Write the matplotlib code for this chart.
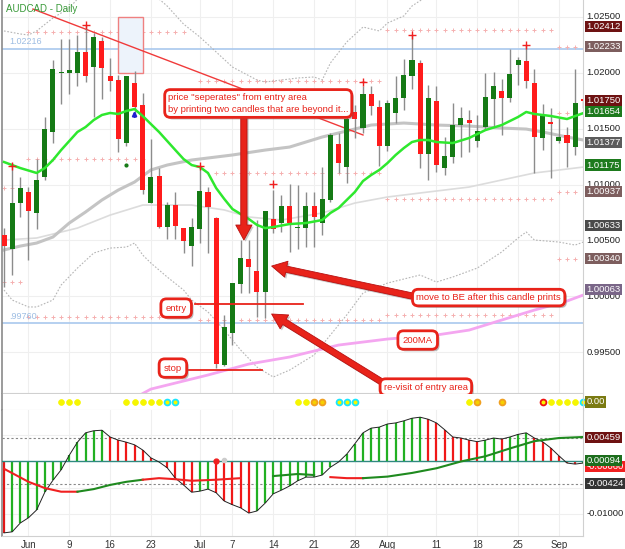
import matplotlib.pyplot as plt
import matplotlib.patheffects as pe
import numpy as np

plt.rcParams['font.family'] = ['Liberation Sans', 'DejaVu Sans']

# velas diarias AUDCAD, 28 may -> 4 sep 2014 (72 velas)
abre = [1.00549, 1.00423, 1.00835, 1.00934, 1.00746, 1.01068, 1.01471, 1.01999, 1.01999, 1.01999,
        1.02187, 1.02052, 1.02285, 1.01972, 1.01936, 1.01372, 1.01909, 1.01712, 1.00835, 1.01077,
        1.00620, 1.00817, 1.00611, 1.00450, 1.00602, 1.00934, 1.00701, 0.99385, 0.99672, 1.00110,
        1.00334, 1.00227, 1.00039, 1.00692, 1.00656, 1.00808, 1.00611, 1.00611, 1.00808, 1.00656,
        1.00862, 1.01363, 1.01157, 1.01650, 1.01506, 1.01811, 1.01694, 1.01345, 1.01641, 1.01775,
        1.01972, 1.02088, 1.01274, 1.01748, 1.01148, 1.01247, 1.01533, 1.01578, 1.01390, 1.01515,
        1.01766, 1.01838, 1.01775, 1.02070, 1.02106, 1.01909, 1.01417, 1.01560, 1.01390, 1.01444,
        1.01336, 1.01757]
maximo = [1.00611, 1.01193, 1.01068, 1.00978, 1.01229, 1.01605, 1.02115, 1.02303, 1.02303, 1.02339,
          1.02428, 1.02357, 1.02321, 1.02133, 1.01981, 1.01972, 1.02017, 1.01820, 1.01408, 1.01148,
          1.00844, 1.00934, 1.00611, 1.00701, 1.01157, 1.00978, 1.00710, 0.99833, 1.00119, 1.00504,
          1.00504, 1.00683, 1.00764, 1.00951, 1.00907, 1.01005, 1.00996, 1.00934, 1.00934, 1.01157,
          1.01462, 1.01462, 1.01667, 1.01712, 1.01882, 1.01882, 1.01757, 1.01757, 1.01972, 1.02124,
          1.02339, 1.02115, 1.01891, 1.01882, 1.01426, 1.01730, 1.01694, 1.01667, 1.01623, 1.01999,
          1.02008, 1.01945, 1.02213, 1.02142, 1.02249, 1.02034, 1.01721, 1.01685, 1.01596, 1.01515,
          1.02034, 1.01757]
minimo = [1.00083, 1.00191, 1.00710, 1.00325, 1.00602, 1.01041, 1.01372, 1.01721, 1.01811, 1.01882,
          1.01918, 1.01605, 1.01766, 1.01838, 1.01292, 1.01345, 1.01605, 1.00916, 1.00835, 1.00611,
          1.00513, 1.00513, 1.00388, 1.00271, 1.00477, 1.00388, 0.99358, 0.99376, 0.99564, 1.00030,
          1.00030, 0.99815, 0.99806, 1.00567, 1.00576, 1.00397, 1.00423, 1.00441, 1.00441, 1.00549,
          1.00844, 1.01104, 1.01014, 1.01417, 1.01462, 1.01623, 1.01166, 1.01301, 1.01551, 1.01667,
          1.01855, 1.01148, 1.01041, 1.01113, 1.01086, 1.01193, 1.01247, 1.01292, 1.01336, 1.01488,
          1.01524, 1.01444, 1.01739, 1.01891, 1.01864, 1.01104, 1.01309, 1.01059, 1.01372, 1.01157,
          1.01265, 1.01685]
cierra = [1.00450, 1.00835, 1.00969, 1.00764, 1.01041, 1.01497, 1.02034, 1.02008, 1.02025, 1.02187,
          1.01972, 1.02321, 1.02043, 1.01927, 1.01408, 1.01972, 1.01694, 1.00951, 1.01068, 1.00620,
          1.00817, 1.00629, 1.00495, 1.00620, 1.00943, 1.00799, 0.99394, 0.99725, 1.00119, 1.00343,
          1.00262, 1.00039, 1.00764, 1.00602, 1.00808, 1.00656, 1.00620, 1.00808, 1.00710, 1.00871,
          1.01444, 1.01193, 1.01587, 1.01587, 1.01811, 1.01703, 1.01345, 1.01730, 1.01775, 1.01981,
          1.02115, 1.01274, 1.01775, 1.01175, 1.01256, 1.01533, 1.01596, 1.01551, 1.01480, 1.01784,
          1.01882, 1.01775, 1.01990, 1.02115, 1.01927, 1.01426, 1.01623, 1.01542, 1.01426, 1.01372,
          1.01730, 1.01750]

# medias moviles (indice de vela, precio)
ma_verde_i = [0, 2, 4, 5, 6, 7, 8, 9, 10, 11, 12, 13, 14, 15, 16, 17, 18, 19, 20, 21, 22, 23, 24, 25,
              26, 27, 28, 29, 30, 31, 32, 33, 35, 37, 39, 40, 41, 42, 43, 44, 45, 46, 47, 48, 49, 50,
              51, 52, 53, 55, 57, 59, 61, 63, 64, 65, 67, 69, 71]
ma_verde = [1.01202, 1.01148, 1.01104, 1.01148, 1.01220, 1.01309, 1.01390, 1.01471, 1.01515, 1.01578,
            1.01623, 1.01641, 1.01632, 1.01659, 1.01676, 1.01614, 1.01542, 1.01471, 1.01390, 1.01309,
            1.01229, 1.01175, 1.01157, 1.01104, 1.00969, 1.00871, 1.00781, 1.00737, 1.00692, 1.00639,
            1.00611, 1.00620, 1.00647, 1.00656, 1.00683, 1.00746, 1.00790, 1.00862, 1.00934, 1.01032,
            1.01086, 1.01131, 1.01193, 1.01265, 1.01327, 1.01381, 1.01399, 1.01399, 1.01381, 1.01372,
            1.01417, 1.01488, 1.01533, 1.01605, 1.01650, 1.01632, 1.01614, 1.01587, 1.01640]
ma_gris_i = [0, 2, 4, 6, 8, 10, 12, 14, 16, 18, 20, 23, 28, 32, 35, 39, 41, 45, 49, 53, 57, 61, 64,
             66, 69, 71]
ma_gris = [1.00415, 1.00450, 1.00477, 1.00531, 1.00656, 1.00755, 1.00862, 1.00951, 1.01023, 1.01131,
           1.01175, 1.01220, 1.01265, 1.01309, 1.01336, 1.01426, 1.01462, 1.01533, 1.01551, 1.01533,
           1.01524, 1.01506, 1.01497, 1.01471, 1.01426, 1.01399]
ma_fina_i = [0, 4, 9, 13, 17, 23, 27, 30, 34, 39, 43, 47, 51, 57, 61, 65, 71]
ma_fina = [1.00504, 1.00522, 1.00611, 1.00727, 1.00817, 1.00817, 1.00773, 1.00710, 1.00683, 1.00746,
           1.00835, 1.00889, 1.00925, 1.00978, 1.01041, 1.01104, 1.01157]
ma200_i = [17, 18, 20, 25, 30, 35, 41, 47, 53, 57, 61, 65, 69, 71]
ma200 = [0.99130, 0.99170, 0.99206, 0.99296, 0.99394, 0.99457, 0.99564, 0.99618, 0.99654, 0.99698,
         0.99788, 0.99877, 0.99958, 1.00012]

# bandas de bollinger
bb_sup_i = [0, 2, 3, 4, 6, 8, 10, 14, 18, 20, 22, 24, 26, 28, 31, 32, 36, 38, 39, 40, 42, 44, 46, 47,
            49, 50, 53, 60, 67, 71]
bb_sup = [1.02375, 1.02348, 1.02339, 1.02375, 1.02491, 1.02580, 1.02742, 1.02831, 1.02724, 1.02598,
          1.02437, 1.02321, 1.02187, 1.02052, 1.01936, 1.01918, 1.01954, 1.01963, 1.01936, 1.02088,
          1.02276, 1.02410, 1.02375, 1.02446, 1.02509, 1.02598, 1.02742, 1.02831, 1.02786, 1.02742]
bb_inf_i = [0, 1, 3, 4, 6, 7, 9, 11, 13, 15, 16, 17, 18, 20, 22, 23, 25, 27, 29, 31, 33, 35, 38, 40,
            42, 44, 47, 49, 51, 53, 55, 58, 61, 63, 64, 65, 68, 70, 71]
bb_inf = [1.00057, 0.99967, 0.99905, 0.99905, 0.99967, 1.00101, 1.00253, 1.00388, 1.00432, 1.00441,
          1.00477, 1.00370, 1.00298, 1.00173, 1.00057, 0.99967, 0.99860, 0.99698, 0.99520, 0.99367,
          0.99278, 0.99340, 0.99475, 0.99654, 0.99833, 1.00030, 1.00119, 1.00155, 1.00191, 1.00128,
          1.00173, 1.00253, 1.00397, 1.00522, 1.00576, 1.00504, 1.00486, 1.00459, 1.00486]

# pivotes semanales (desde, hasta, precio)
pivotes = [(3, 22, 1.02366), (24, 46, 1.01927), (3, 17, 1.01229), (26, 46, 1.01104),
           (0, 2, 1.00969), (0, 2, 1.00128), (3, 19, 0.99815), (24, 46, 0.99788),
           (47, 67, 0.99833), (47, 67, 1.02384), (47, 67, 1.00871), (68, 70, 1.02231),
           (68, 70, 1.01641), (68, 70, 1.00934), (68, 70, 1.00334)]
cruces_i = [1, 10, 24, 33, 44, 50, 64]
cruces_p = [1.01166, 1.02428, 1.01166, 1.01005, 1.01918, 1.02339, 1.02249]

# MACD
macd = [-0.0137, -0.0135, -0.0118, -0.0108, -0.0093, -0.0059, -0.0036, -0.0016, 0.0012, 0.0037,
        0.0055, 0.0059, 0.0060, 0.0047, 0.0041, 0.0037, 0.0032, 0.0022, 0.0007, -0.0001,
        -0.0012, -0.0032, -0.0045, -0.0059, -0.0057, -0.0053, -0.0060, -0.0076, -0.0083, -0.0089,
        -0.0099, -0.0095, -0.0080, -0.0062, -0.0055, -0.0047, -0.0037, -0.0030, -0.0030, -0.0026,
        -0.0011, -0.0001, 0.0014, 0.0034, 0.0055, 0.0064, 0.0066, 0.0072, 0.0074, 0.0078,
        0.0083, 0.0085, 0.0081, 0.0074, 0.0061, 0.0047, 0.0045, 0.0041, 0.0038, 0.0041,
        0.0045, 0.0043, 0.0047, 0.0052, 0.0055, 0.0045, 0.0038, 0.0026, 0.0011, -0.0003,
        -0.0005, -0.0003]
senal_i = [0, 3, 5, 7, 9, 11, 13, 15, 17, 19, 21, 23, 26, 29, 33, 36, 38, 40, 42, 44, 47, 50, 53,
           56, 59, 62, 65, 68, 71]
senal = [-0.0014, -0.0039, -0.0051, -0.0058, -0.0058, -0.0053, -0.0045, -0.0039, -0.0035, -0.0032,
         -0.0034, -0.0037, -0.0035, -0.0032, -0.0028, -0.0024, -0.0026, -0.0030, -0.0032, -0.0032,
         -0.0029, -0.0022, -0.0013, 0.0000, 0.0010, 0.0025, 0.0039, 0.0045, 0.0047]
senal_tramos = [(0, 9, 'red'), (9, 17, 'green'), (17, 30, 'red'), (30, 39, 'green'),
                (39, 44, 'red'), (44, 71, 'green')]

# puntos del indicador
puntos_i = [7, 8, 9, 15, 16, 17, 18, 19, 20, 21, 36, 37, 38, 39, 41, 42, 43, 57, 58, 61, 66,
            67, 68, 69, 70, 71]
puntos_t = ['y', 'y', 'y', 'y', 'y', 'y', 'y', 'y', 'c', 'c', 'y', 'y', 'o', 'o', 'c', 'c', 'c',
            'y', 'o', 'o', 'r', 'y', 'y', 'y', 'y', 'c']

ticks_fechas = [3, 8, 13, 18, 24, 28, 33, 38, 43, 47, 53, 58, 63, 68]
etiquetas_fechas = ['Jun', '9', '16', '23', 'Jul', '7', '14', '21', '28', 'Aug', '11', '18', '25', 'Sep']
ticks_precio = [1.025, 1.020, 1.015, 1.010, 1.005, 1.000, 0.995]

ROJO = '#e8231a'
VERDE_V = '#157a15'
ROJO_V = '#ff1c1c'

fig = plt.figure(figsize=(6.25, 5.49), dpi=100)
W, H = 625, 549
ax = fig.add_axes([2 / W, 1 - 393 / H, 581 / W, 393 / H])
axd = fig.add_axes([2 / W, 1 - 410 / H, 581 / W, 16 / H])
axm = fig.add_axes([2 / W, 1 - 536 / H, 581 / W, 126 / H])

xlim = (-0.245, 70.96)
idx = np.arange(len(abre))
o = np.array(abre)
c = np.array(cierra)

for a in (ax, axd, axm):
    a.set_xlim(*xlim)
    a.set_xticks([])
    a.set_yticks([])
    for s in a.spines.values():
        s.set_color('#d0d0d0')
        s.set_linewidth(0.8)
    a.spines['left'].set_color('#8a8a8a')
    a.spines['left'].set_linewidth(1.2)
    a.spines['top'].set_visible(False)

# ---------------- panel principal ----------------
ax.set_ylim(0.99135, 1.02652)
for t in ticks_precio:
    ax.axhline(t, color='#efefef', lw=0.8, zorder=0)
for t in ticks_fechas:
    ax.axvline(t, color='#efefef', lw=0.8, zorder=0)

ax.axhline(1.02216, color='#a9c8ee', lw=1.2, zorder=1)
ax.axhline(0.99760, color='#a9c8ee', lw=1.2, zorder=1)
ax.text(0.6, 1.02216 + 0.0002, '1.02216', color='#9dbde3', fontsize=6.5, va='bottom', ha='left')
ax.text(0.6, 0.99760 + 0.0002, '.99760', color='#9dbde3', fontsize=6.5, va='bottom', ha='left')

for d, h, p in pivotes:
    xs = np.arange(d, h + 1)
    ax.plot(xs, [p] * len(xs), '+', color='#f5b0b0', ms=2.3, mew=0.7, zorder=1)

ax.plot(bb_sup_i, bb_sup, color='#b5b5b5', lw=0.8, ls=(0, (1.5, 1.5)), zorder=1)
ax.plot(bb_inf_i, bb_inf, color='#b5b5b5', lw=0.8, ls=(0, (1.5, 1.5)), zorder=1)
ax.plot(ma_fina_i, ma_fina, color='#dcdcdc', lw=1.2, zorder=2)
ax.plot(ma_gris_i, ma_gris, color='#c4c4c4', lw=2.2, zorder=2)
ax.plot(ma200_i, ma200, color='#f4a6f0', lw=2.0, zorder=2)

# area de entrada
ax.add_patch(plt.Rectangle((13.97, 1.01999), 3.06, 1.02500 - 1.01999, fc='#edf3fb', ec='#ef8080',
                           lw=1.0, zorder=1))
# linea de tendencia
ax.plot([3.55, 44.0], [1.02571, 1.01444], color='#f03a3a', lw=1.0, zorder=3)

# velas
ax.vlines(idx, minimo, maximo, color='#8c8c8c', lw=1.0, zorder=3)
colores = [VERDE_V if cc >= oo else ROJO_V for oo, cc in zip(o, c)]
alto = np.maximum(np.abs(c - o), 0.00012)
ax.bar(idx, alto, bottom=np.minimum(o, c), width=0.62, color=colores, zorder=4)

ax.plot(ma_verde_i, ma_verde, color='#2ee82e', lw=1.8, zorder=5)

ax.plot(cruces_i, cruces_p, '+', color='#f02020', ms=6, mew=1.0, zorder=6)
ax.annotate('', xy=(16, 1.01685), xytext=(16, 1.01580),
            arrowprops=dict(arrowstyle='-|>', color='#2020d0', lw=1.5, mutation_scale=6), zorder=6)
ax.plot([15], [1.01175], 'o', color='#157a15', ms=2, zorder=6)

ax.text(0.2, 1.0262, 'AUDCAD - Daily', color='#3a9a3a', fontsize=7, va='top', ha='left')

# lineas de entrada y stop
ax.plot([23.4, 36.6], [0.99930, 0.99930], color=ROJO, lw=1.3, zorder=6)
ax.plot([22.7, 31.6], [0.99341, 0.99341], color=ROJO, lw=1.3, zorder=6)

# flechas
flecha = dict(arrowstyle='simple,head_width=1.3,head_length=1.2,tail_width=0.5',
              fc=ROJO, ec='#b81010', lw=0.6, mutation_scale=9, shrinkA=0, shrinkB=0,
              path_effects=[pe.withSimplePatchShadow(offset=(1.2, -1.2), shadow_rgbFace='0.4', alpha=0.35)])
ax.annotate('', xy=(29.4, 1.00504), xytext=(29.4, 1.01650), arrowprops=flecha, zorder=7)
ax.annotate('', xy=(32.8, 1.00271), xytext=(50.0, 1.00003), arrowprops=flecha, zorder=7)
ax.annotate('', xy=(32.8, 0.99842), xytext=(46.6, 0.99220), arrowprops=flecha, zorder=7)

sombra = [pe.withSimplePatchShadow(offset=(1.5, -1.5), shadow_rgbFace='0.35', alpha=0.4)]


def caja(x, y, texto, pad=0.45, ha='center'):
    t = ax.text(x, y, texto, color=ROJO, fontsize=6.8, ha=ha, va='center', zorder=9,
                linespacing=1.45, clip_on=False,
                bbox=dict(boxstyle='round,pad=%s,rounding_size=0.6' % pad, fc='white', ec=ROJO, lw=2.0))
    t.get_bbox_patch().set_path_effects(sombra)
    return t


caja(20.1, 1.01726, 'price "seperates" from entry area\nby printing two candles that are beyond it...',
     pad=0.35, ha='left')
caja(59.4, 0.99989, 'move to BE after this candle prints', pad=0.4)
caja(51.7, 0.99188, 're-visit of entry area', pad=0.4)
caja(21.1, 0.99895, 'entry', pad=0.5)
caja(20.7, 0.99358, 'stop', pad=0.5)
caja(50.7, 0.99609, '200MA', pad=0.5)

# etiquetas de precio a la derecha
ytr = ax.get_yaxis_transform()
for t in ticks_precio:
    ax.text(1.006, t, '%.5f' % t, transform=ytr, fontsize=6.8, color='#222222', va='center',
            ha='left', clip_on=False, zorder=1)
cajas_precio = [(1.02412, '#6e1212'), (1.02233, '#7d5e5e'), (1.01750, '#6e1212'),
                (1.01654, '#1d7a1d'), (1.01377, '#5c5c5c'), (1.01175, '#1d7a1d'),
                (1.00937, '#7d5e5e'), (1.00633, '#4a4a4a'), (1.00340, '#7d5e5e'),
                (1.00063, '#7a6688')]
for v, col in cajas_precio:
    ax.text(1.006, v, '%.5f' % v, transform=ytr, fontsize=6.8, color='white', va='center',
            ha='left', clip_on=False, zorder=10,
            bbox=dict(boxstyle='square,pad=0.12', fc=col, ec='none'))

# ---------------- fila de puntos ----------------
axd.set_ylim(-1, 1)
estilos = {'y': ('#f6f600', '#f6f600'), 'c': ('#f6f600', '#19e6ff'),
           'o': ('#f6d000', '#f0a020'), 'r': ('#f6f600', '#f01010')}
for i, t in zip(puntos_i, puntos_t):
    fc, ec = estilos[t]
    axd.plot(i, 0, 'o', ms=4.2, mfc=fc, mec=ec, mew=1.3 if t != 'y' else 0.5, clip_on=False)
axd.text(1.006, 0, '0.00', transform=axd.get_yaxis_transform(), fontsize=6.8, color='white',
         va='center', ha='left', clip_on=False,
         bbox=dict(boxstyle='square,pad=0.15', fc='#7b7b12', ec='none'))

# ---------------- panel MACD ----------------
axm.set_ylim(-0.0143, 0.00988)
for t in ticks_fechas:
    axm.axvline(t, color='#efefef', lw=0.8, zorder=0)
for t in (0.005, -0.005, -0.010):
    axm.axhline(t, color='#efefef', lw=0.8, zorder=0)
axm.axhline(0.00459, color='#888888', lw=0.8, ls=(0, (2, 2)), zorder=1)
axm.axhline(-0.00424, color='#888888', lw=0.8, ls=(0, (2, 2)), zorder=1)

m = np.array(macd)
col_m = ['#e01818'] + ['#22b022' if m[k] >= m[k - 1] else '#f01818' for k in range(1, len(m))]
axm.vlines(idx, 0, m, colors=col_m, lw=1.6, zorder=2)
axm.axhline(0, color='#2f8a80', lw=1.0, zorder=3)
axm.plot(idx, m, color='#222222', lw=0.7, zorder=4)

xs_s = np.array(senal_i)
ys_s = np.array(senal)
for d, h, col in senal_tramos:
    sel = (xs_s >= d) & (xs_s <= h)
    axm.plot(xs_s[sel], ys_s[sel], color='#f02020' if col == 'red' else '#1f8a1f', lw=1.5, zorder=5)
axm.plot([26], [0], 'o', color='#f02020', ms=3.5, zorder=6)
axm.plot([27], [0.0002], 'o', color='#cccccc', ms=3, zorder=6)

ytm = axm.get_yaxis_transform()
axm.text(1.006, -0.010, '-0.01000', transform=ytm, fontsize=6.8, color='#222222', va='center',
         ha='left', clip_on=False)
cajas_macd = [(0.00459, '0.00459', '#6e1212'), (-0.00090, '-0.00060', '#f02020'),
              (0.00015, '0.00094', '#1d6e1d'), (-0.00424, '-0.00424', '#333333')]
for v, txt, col in cajas_macd:
    axm.text(1.006, v, txt, transform=ytm, fontsize=6.8, color='white', va='center', ha='left',
             clip_on=False, bbox=dict(boxstyle='square,pad=0.12', fc=col, ec='none'))

axm.set_xticks(ticks_fechas)
axm.set_xticklabels(etiquetas_fechas, fontsize=7, color='#333333')
axm.tick_params(axis='x', length=0, pad=3)

fig.savefig('out.png', dpi=100)
